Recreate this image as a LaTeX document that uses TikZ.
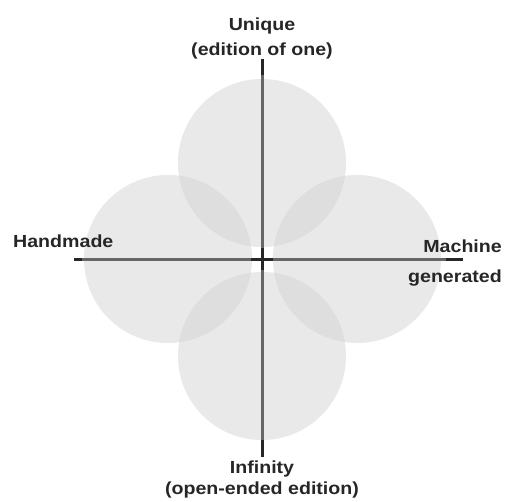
\documentclass[tikz,border=0pt]{standalone}
\usepackage{fontspec}
\setmainfont{Liberation Sans}[FakeStretch=1.12]
\definecolor{disc}{gray}{0.915}
\definecolor{lens}{gray}{0.87}
\definecolor{axis}{gray}{0.4}
\begin{document}
\begin{tikzpicture}[x=1pt,y=-1pt,
  lbl/.style={font=\fontsize{17.5}{25}\selectfont\bfseries, inner sep=0pt, text=black!85},
  axisline/.style={axis, line width=3pt},
  axisend/.style={black!85, line width=3pt}]
\useasboundingbox (0,0) rectangle (506,501);
\fill[white] (0,0) rectangle (506,501);
% discs
\coordinate (ct) at (262,163);
\coordinate (cb) at (262,356);
\coordinate (cl) at (168,259);
\coordinate (cr) at (357,259);
\foreach \c in {ct,cb,cl,cr} \fill[disc] (\c) circle (84);
\foreach \a/\b in {ct/cl,ct/cr,cb/cl,cb/cr}{
  \begin{scope}
    \clip (\a) circle (84);
    \fill[lens] (\b) circle (84);
  \end{scope}}
% axes
\coordinate (o) at (262,259);
\coordinate (top) at (262,59);
\coordinate (bot) at (262,457);
\coordinate (left) at (74,259);
\coordinate (right) at (463,259);
\draw[axisline] (top) -- (bot);
\draw[axisline] (left) -- (right);
\draw[axisend] (top) -- ++(0,16);
\draw[axisend] (bot) -- ++(0,-17);
\draw[axisend] (left) -- ++(8,0);
\draw[axisend] (right) -- ++(-17,0);
\draw[axisend] (o) ++(-11,0) -- ++(22,0);
\draw[axisend] (o) ++(0,-11) -- ++(0,22);
% labels
\node[lbl, anchor=base] (unique) at (262,30) {Unique};
\node[lbl, anchor=base] (edone) at (262,55) {(edition of one)};
\node[lbl, anchor=base west] (hand) at (13,247) {Handmade};
\node[lbl, anchor=base east] (mach) at (502,252) {Machine};
\node[lbl, anchor=base east] (gen) at (502,282) {generated};
\node[lbl, anchor=base] (inf) at (262,473) {Infinity};
\node[lbl, anchor=base] (open) at (262,494) {(open-ended edition)};
\end{tikzpicture}
\end{document}
